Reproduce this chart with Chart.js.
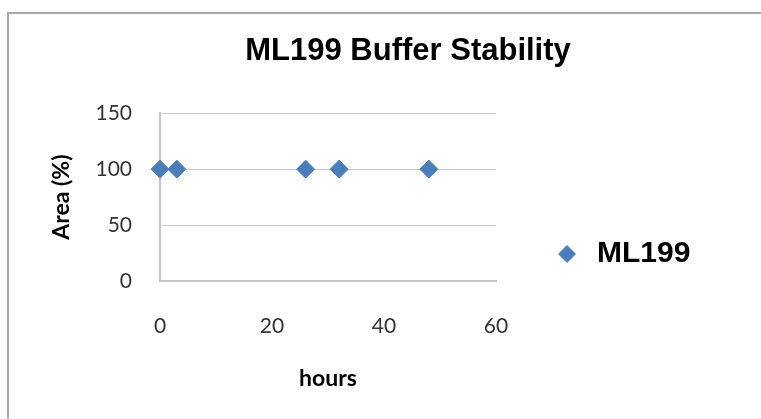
<!DOCTYPE html>
<html>
<head>
<meta charset="utf-8">
<script src="https://cdn.jsdelivr.net/npm/chart.js@4.4.0/dist/chart.umd.min.js"></script>
<style>
    html, body { margin: 0; padding: 0; background: #fff; overflow: hidden; }
    #wrap { position: relative; width: 761px; height: 419px; overflow: hidden; }
    #frame {
        position: absolute; left: 7px; top: 12px; right: -10px; bottom: -10px;
        border-left: 2px solid #a9a9a9; border-top: 2px solid #a9a9a9;
    }
    #chart { position: absolute; left: 0; top: 0; }
</style>
</head>
<body>
<div id="wrap">
    <div id="frame"></div>
    <canvas id="chart" width="816" height="419"></canvas>
</div>
<script>
/* --- Data --- */
const seriesName = 'ML199';
const hours = [0, 3, 26, 32, 48];
const areaPct = [100, 100, 100, 100, 100];
const xTicks = [0, 20, 40, 60];
const yTicks = [0, 50, 100, 150];

const blue = '#4a7ebb';
const tickFont = { family: 'Lato', size: 21 };
const labelFont = { family: 'Lato', size: 23, weight: 'bold' };
const headFont = { family: 'Liberation Sans', size: 31, weight: 'bold' };
const legendFont = { family: 'Liberation Sans', size: 30, weight: 'bold' };

// invisible spacer boxes so plot, legend and title sit where the original has them
const spacer = (w, weight) => ({
    type: 'linear', position: 'right', display: true, weight: weight,
    grid: { display: false }, border: { display: false }, ticks: { display: false },
    afterFit: s => { s.width = w; }
});

/* --- Chart.js Setup --- */
new Chart(document.getElementById('chart'), {
    type: 'scatter',
    data: {
        datasets: [{
            label: seriesName,
            data: hours.map((h, i) => ({ x: h, y: areaPct[i] })),
            pointStyle: 'rectRot',
            pointRadius: 9,
            pointHoverRadius: 9,
            backgroundColor: blue,
            borderColor: blue,
            borderWidth: 1,
            clip: false
        }]
    },
    options: {
        responsive: false,
        animation: false,
        layout: { padding: 0 },
        plugins: {
            title: {
                display: true,
                text: 'ML199 Buffer Stability',
                color: '#000',
                font: headFont,
                padding: { top: 33, bottom: 43 }
            },
            legend: {
                position: 'right',
                align: 'end',
                fullSize: false,
                maxWidth: 240,
                labels: {
                    usePointStyle: true,
                    boxWidth: 30,
                    boxHeight: 12,
                    padding: 12,
                    color: '#000',
                    font: legendFont
                }
            },
            tooltip: { enabled: false }
        },
        scales: {
            x: {
                type: 'linear',
                min: xTicks[0],
                max: xTicks[xTicks.length - 1],
                afterBuildTicks: s => { s.ticks = xTicks.map(v => ({ value: v })); },
                grid: { display: false, drawTicks: false },
                border: { display: true, color: '#c4c4c4', width: 2 },
                ticks: { color: '#333', font: tickFont, padding: 33 },
                title: { display: true, text: 'hours', color: '#000', font: labelFont, padding: { top: 0, bottom: 27 } },
                afterFit: s => { s.height = 138; }
            },
            y: {
                type: 'linear',
                min: yTicks[0],
                max: yTicks[yTicks.length - 1],
                afterBuildTicks: s => { s.ticks = yTicks.map(v => ({ value: v })); },
                grid: { color: '#c8c8c8', lineWidth: 1, drawTicks: false },
                border: { display: true, color: '#c4c4c4', width: 2 },
                ticks: { color: '#333', font: tickFont, padding: 28 },
                title: { display: true, text: 'Area (%)', color: '#000', font: labelFont, padding: { top: 48, bottom: 0 } },
                afterFit: s => { s.width = 160; }
            },
            gapInner: spacer(44, 0),
            gapOuter: spacer(115.6, 2000)
        }
    }
});
</script>
</body>
</html>
